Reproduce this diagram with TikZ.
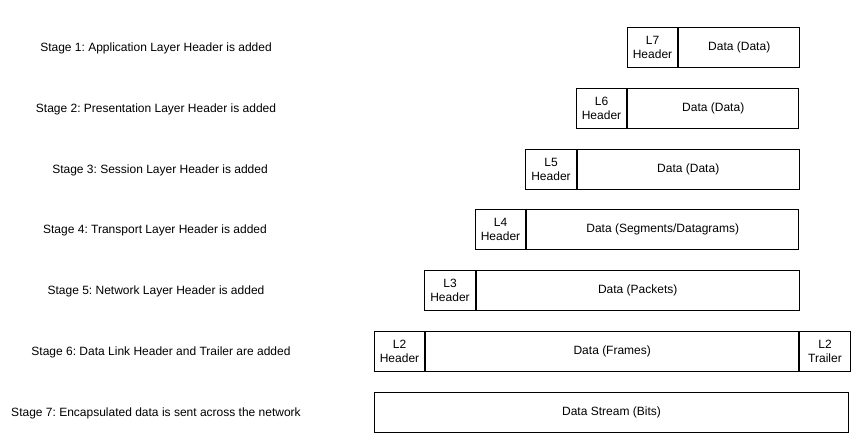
\documentclass[tikz,border=0pt]{standalone}
\usepackage{fontspec}
\setmainfont{Liberation Sans}
\frenchspacing
\usetikzlibrary{positioning}

\tikzset{
  cell/.style={draw,line width=1pt,minimum height=40pt,inner sep=0pt,align=center,font=\fontsize{12}{14}\selectfont},
  hdr/.style={cell,minimum width=50.5pt},
  stage/.style={font=\fontsize{12}{14}\selectfont,inner sep=0pt}
}

\begin{document}
\begin{tikzpicture}[x=1pt,y=-1pt]
	\useasboundingbox (0,0) rectangle (857,442);
	
	\begin{scope}[every node/.style={stage}]
		\node (S1) at (156,48.5) {Stage 1: Application Layer Header is added};
		\node (S2) at (156,109) {Stage 2: Presentation Layer Header is added};
		\node (S3) at (160,170) {Stage 3: Session Layer Header is added};
		\node (S4) at (155,230.5) {Stage 4: Transport Layer Header is added};
		\node (S5) at (156,291.5) {Stage 5: Network Layer Header is added};
		\node (S6) at (161,352) {Stage 6: Data Link Header and Trailer are added};
		\node (S7) at (156,413) {Stage 7: Encapsulated data is sent across the network};
	\end{scope}
	
	% headers
	\node[hdr] (H7) at (652.5,47.5) {L7\\Header};
	\node[hdr] (H6) at (601.5,108) {L6\\Header};
	\node[hdr] (H5) at (551,169) {L5\\Header};
	\node[hdr] (H4) at (500.5,229.5) {L4\\Header};
	\node[hdr] (H3) at (450,290.5) {L3\\Header};
	\node[hdr] (H2) at (399.5,351) {L2\\Header};
	
	% data
	\node[cell,minimum width=121pt,right=0pt of H7] (D7) {Data (Data)};
	\node[cell,minimum width=171pt,right=0pt of H6] (D6) {Data (Data)};
	\node[cell,minimum width=222pt,right=0pt of H5] (D5) {Data (Data)};
	\node[cell,minimum width=272pt,right=0pt of H4] (D4) {Data (Segments/Datagrams)};
	\node[cell,minimum width=323pt,right=0pt of H3] (D3) {Data (Packets)};
	\node[cell,minimum width=373pt,right=0pt of H2] (D2) {Data (Frames)};
	\node[hdr,right=0pt of D2] (T2) {L2\\Trailer};
	\node[cell,minimum width=474pt] (D1) at (611.5,412) {Data Stream (Bits)};
\end{tikzpicture}
\end{document}
